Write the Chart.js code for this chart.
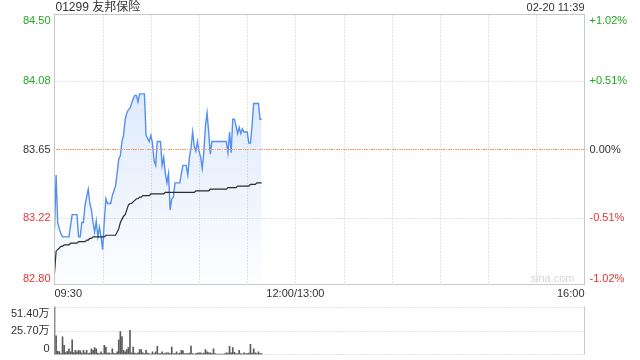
<!DOCTYPE html>
<html>
<head>
<meta charset="utf-8">
<script src="https://cdn.jsdelivr.net/npm/chart.js@4.4.1/dist/chart.umd.min.js"></script>
<style>
    html, body { margin: 0; padding: 0; background: #fff; }
    #wrap { position: relative; width: 640px; height: 360px; overflow: hidden; }
    #priceBox { position: absolute; left: 0; top: 0; width: 640px; height: 300px; }
    #volBox { position: absolute; left: 0; top: 300px; width: 640px; height: 60px; }
</style>
</head>
<body>
<div id="wrap">
    <div id="priceBox"><canvas id="priceChart"></canvas></div>
    <div id="volBox"><canvas id="volChart"></canvas></div>
</div>
<script>
const stockTitle = '01299 友邦保险';
const stampText = '02-20 11:39';
const prevClose = 83.65;

// axis ticks
const priceTicks = [84.50, 84.08, 83.65, 83.22, 82.80];
const pctTicks = ['+1.02%', '+0.51%', '0.00%', '-0.51%', '-1.02%'];
const volTicks = [51.40, 25.70, 0];
const volTickLabels = ['51.40万', '25.70万', '0'];
const timeTickIndex = [0, 150, 330];
const timeTickLabels = ['09:30', '12:00/13:00', '16:00'];

// minute price, 09:30 - 11:39
const priceData = [
    83.15, 83.49, 83.19, 83.15, 83.12, 83.10, 83.10, 83.10, 83.10, 83.10,
    83.17, 83.24, 83.24, 83.24, 83.24, 83.10, 83.10, 83.19, 83.19, 83.30,
    83.35, 83.40, 83.31, 83.27, 83.19, 83.13, 83.20, 83.10, 83.16, 83.10,
    83.02, 83.20, 83.34, 83.31, 83.31, 83.31, 83.36, 83.39, 83.42, 83.50,
    83.59, 83.61, 83.70, 83.74, 83.84, 83.88, 83.90, 83.91, 83.94, 83.97,
    83.99, 83.99, 83.95, 84.00, 84.00, 84.00, 84.00, 83.74, 83.72, 83.70,
    83.74, 83.69, 83.58, 83.55, 83.70, 83.70, 83.70, 83.55, 83.60, 83.50,
    83.44, 83.50, 83.27, 83.34, 83.35, 83.44, 83.44, 83.44, 83.44, 83.50,
    83.55, 83.55, 83.55, 83.49, 83.60, 83.66, 83.76, 83.67, 83.64, 83.70,
    83.64, 83.60, 83.53, 83.64, 83.80, 83.88, 83.76, 83.62, 83.70, 83.70,
    83.70, 83.70, 83.70, 83.70, 83.70, 83.70, 83.70, 83.70, 83.63, 83.76,
    83.63, 83.84, 83.84, 83.80, 83.75, 83.79, 83.75, 83.78, 83.76, 83.76,
    83.76, 83.69, 83.69, 83.80, 83.94, 83.94, 83.94, 83.94, 83.84, 83.84
];

// minute average price
const avgData = [
    82.87, 83.01, 83.02, 83.03, 83.04, 83.04, 83.05, 83.05, 83.05, 83.05,
    83.06, 83.06, 83.06, 83.06, 83.06, 83.07, 83.07, 83.07, 83.07, 83.07,
    83.08, 83.08, 83.09, 83.09, 83.10, 83.10, 83.10, 83.10, 83.10, 83.10,
    83.10, 83.10, 83.11, 83.11, 83.11, 83.11, 83.11, 83.11, 83.11, 83.13,
    83.15, 83.19, 83.21, 83.23, 83.24, 83.27, 83.30, 83.31, 83.31, 83.32,
    83.33, 83.34, 83.34, 83.35, 83.35, 83.36, 83.36, 83.36, 83.36, 83.36,
    83.37, 83.37, 83.37, 83.37, 83.37, 83.37, 83.37, 83.37, 83.37, 83.38,
    83.38, 83.38, 83.38, 83.38, 83.38, 83.38, 83.38, 83.38, 83.38, 83.38,
    83.38, 83.38, 83.38, 83.38, 83.38, 83.38, 83.38, 83.38, 83.39, 83.39,
    83.39, 83.39, 83.39, 83.39, 83.39, 83.39, 83.39, 83.40, 83.40, 83.40,
    83.40, 83.40, 83.40, 83.40, 83.40, 83.40, 83.40, 83.40, 83.41, 83.41,
    83.41, 83.41, 83.41, 83.41, 83.42, 83.42, 83.42, 83.42, 83.42, 83.42,
    83.42, 83.42, 83.43, 83.43, 83.43, 83.43, 83.44, 83.44, 83.44, 83.44
];

// minute volume, 万股
const volData = [
    51.4, 20.1, 3.5, 3.0, 1.0, 19.0, 9.7, 2.0, 3.5, 6.2,
    2.8, 15.6, 2.0, 4.5, 2.8, 4.5, 3.8, 1.5, 4.5, 1.7,
    4.5, 1.0, 1.5, 6.2, 4.5, 7.3, 6.2, 1.5, 1.0, 2.8,
    1.0, 9.7, 8.0, 1.5, 1.7, 1.0, 6.2, 1.5, 1.0, 2.8,
    15.6, 24.6, 19.1, 4.5, 2.8, 5.2, 7.3, 26.0, 1.7, 8.0,
    1.5, 1.0, 1.7, 5.2, 5.2, 1.7, 1.0, 4.5, 1.5, 1.0,
    0.5, 2.8, 1.0, 2.8, 8.7, 1.0, 1.0, 2.8, 1.0, 1.5,
    1.7, 1.7, 1.0, 8.0, 1.0, 1.0, 2.8, 1.0, 1.5, 4.5,
    3.8, 1.0, 1.0, 1.0, 1.5, 9.0, 1.0, 0.5, 1.0, 1.5,
    1.7, 1.7, 1.0, 1.5, 5.2, 2.8, 1.7, 1.7, 1.0, 6.2,
    1.0, 0.5, 0.5, 0.5, 0.5, 0.5, 1.0, 1.7, 1.5, 8.7,
    1.7, 7.3, 2.4, 1.0, 1.0, 4.5, 1.0, 0.5, 1.7, 1.0,
    1.0, 1.5, 10.8, 1.5, 6.2, 1.7, 1.0, 2.8, 1.0, 1.0
];

// trading minutes 09:30-12:00, 13:01-16:00
const minuteLabels = [];
for (let i = 0; i <= 330; i++) {
    const t = i <= 150 ? 9 * 60 + 30 + i : 13 * 60 + (i - 150);
    minuteLabels.push(String(Math.floor(t / 60)).padStart(2, '0') + ':' + String(t % 60).padStart(2, '0'));
}

const FONT = '"Liberation Sans", Arial, "Noto Sans CJK SC", sans-serif';
const GREEN = '#22a822';
const RED = '#e83333';
const DARK = '#333333';
const GRID = '#c8c8c8';
const CLOSE_LINE = '#f5a06a';

function crisp(v) { return Math.round(v) + 0.5; }

const priceDecor = {
    id: 'priceDecor',
    beforeDatasetsDraw(chart) {
        const { ctx, chartArea: a, scales: { x, y } } = chart;
        ctx.save();
        ctx.lineWidth = 1;
        ctx.strokeStyle = GRID;
        ctx.setLineDash([1, 2]);
        for (let i = 30; i < 330; i += 30) {
            const px = crisp(x.getPixelForValue(i));
            ctx.beginPath(); ctx.moveTo(px, a.top); ctx.lineTo(px, a.bottom); ctx.stroke();
        }
        [priceTicks[1], priceTicks[3]].forEach(v => {
            const py = crisp(y.getPixelForValue(v));
            ctx.beginPath(); ctx.moveTo(a.left, py); ctx.lineTo(a.right, py); ctx.stroke();
        });
        ctx.restore();
    },
    afterDraw(chart) {
        const { ctx, chartArea: a, scales: { x, y } } = chart;
        ctx.save();

        // previous close line, dash and dot
        ctx.fillStyle = CLOSE_LINE;
        const pc = Math.round(y.getPixelForValue(prevClose));
        for (let px = Math.round(a.left) + 1; px < a.right; px += 7) {
            ctx.fillRect(px, pc, 4, 1);
            ctx.fillRect(px + 5, pc, 1, 1);
        }

        ctx.strokeStyle = GRID;
        ctx.lineWidth = 1;
        ctx.strokeRect(Math.round(a.left) - 0.5, Math.round(a.top) - 0.5,
            Math.round(a.right) - Math.round(a.left), Math.round(a.bottom) - Math.round(a.top));

        ctx.font = '11px ' + FONT;
        ctx.textBaseline = 'middle';
        priceTicks.forEach((v, i) => {
            let py = y.getPixelForValue(v);
            if (i === 0) py += 6;
            if (i === priceTicks.length - 1) py -= 6;
            const col = v > prevClose ? GREEN : (v < prevClose ? RED : DARK);
            ctx.fillStyle = col;
            ctx.textAlign = 'right';
            ctx.fillText(v.toFixed(2), a.left - 4, py);
            ctx.textAlign = 'left';
            ctx.fillText(pctTicks[i], a.right + 5, py);
        });

        ctx.fillStyle = DARK;
        timeTickIndex.forEach((idx, i) => {
            const px = x.getPixelForValue(idx);
            ctx.textAlign = i === 0 ? 'left' : (i === timeTickIndex.length - 1 ? 'right' : 'center');
            ctx.fillText(timeTickLabels[i], px, a.bottom + 9);
        });

        ctx.textAlign = 'right';
        ctx.fillText(stampText, a.right, 8);
        ctx.font = '12px ' + FONT;
        ctx.textAlign = 'left';
        ctx.fillText(stockTitle, a.left + 1, 8);

        ctx.font = '11px ' + FONT;
        ctx.fillStyle = '#d6d6d6';
        ctx.textAlign = 'right';
        ctx.fillText('sina.com', a.right - 10, a.bottom - 6);
        ctx.restore();
    }
};

const volDecor = {
    id: 'volDecor',
    beforeDatasetsDraw(chart) {
        const { ctx, chartArea: a, scales: { y } } = chart;
        ctx.save();
        ctx.lineWidth = 1;
        ctx.strokeStyle = GRID;
        ctx.setLineDash([1, 2]);
        volTicks.forEach(v => {
            const py = crisp(y.getPixelForValue(v)) - (v === 0 ? 1 : 0);
            ctx.beginPath(); ctx.moveTo(a.left, py); ctx.lineTo(a.right, py); ctx.stroke();
        });
        ctx.setLineDash([]);
        [a.left, a.right].forEach(xx => {
            const px = Math.round(xx) - 0.5;
            ctx.beginPath(); ctx.moveTo(px, a.top); ctx.lineTo(px, a.bottom); ctx.stroke();
        });
        ctx.restore();
    },
    afterDraw(chart) {
        const { ctx, chartArea: a, scales: { y } } = chart;
        ctx.save();
        ctx.font = '11px ' + FONT;
        ctx.fillStyle = DARK;
        ctx.textAlign = 'right';
        ctx.textBaseline = 'middle';
        volTicks.forEach((v, i) => {
            let py = y.getPixelForValue(v);
            if (i === 0) py += 7;
            if (i === volTicks.length - 1) py -= 6;
            ctx.fillText(volTickLabels[i], a.left - 5, py);
        });
        ctx.restore();
    }
};

new Chart(document.getElementById('priceChart').getContext('2d'), {
    type: 'line',
    data: {
        labels: minuteLabels,
        datasets: [
            {
                label: '均价',
                data: avgData,
                borderColor: '#2b2b2b',
                borderWidth: 1.2,
                pointRadius: 0,
                fill: false,
                tension: 0,
                order: 0
            },
            {
                label: '价格',
                data: priceData,
                borderColor: '#5390f0',
                borderWidth: 1.4,
                pointRadius: 0,
                tension: 0,
                fill: 'start',
                backgroundColor: (c) => {
                    const area = c.chart.chartArea;
                    if (!area) return 'rgba(83,144,240,0.15)';
                    const g = c.chart.ctx.createLinearGradient(0, area.top, 0, area.bottom);
                    g.addColorStop(0, 'rgba(83,144,240,0.26)');
                    g.addColorStop(1, 'rgba(83,144,240,0.01)');
                    return g;
                },
                order: 1
            }
        ]
    },
    options: {
        responsive: true,
        maintainAspectRatio: false,
        animation: false,
        layout: { padding: { left: 54.5, right: 55.5, top: 14.5, bottom: 15.5 } },
        plugins: { legend: { display: false }, tooltip: { enabled: false } },
        scales: {
            x: { type: 'category', display: false, offset: false },
            y: { display: false, min: priceTicks[4], max: priceTicks[0] }
        }
    },
    plugins: [priceDecor]
});

new Chart(document.getElementById('volChart').getContext('2d'), {
    type: 'bar',
    data: {
        labels: minuteLabels,
        datasets: [{
            label: '成交量',
            data: volData,
            backgroundColor: '#5a5a5a',
            barThickness: 1,
            borderWidth: 0
        }]
    },
    options: {
        responsive: true,
        maintainAspectRatio: false,
        animation: false,
        layout: { padding: { left: 54.5, right: 55.5, top: 6.5, bottom: 5.5 } },
        plugins: { legend: { display: false }, tooltip: { enabled: false } },
        scales: {
            x: { type: 'category', display: false, offset: false },
            y: { display: false, min: 0, max: volTicks[0] }
        }
    },
    plugins: [volDecor]
});
</script>
</body>
</html>
